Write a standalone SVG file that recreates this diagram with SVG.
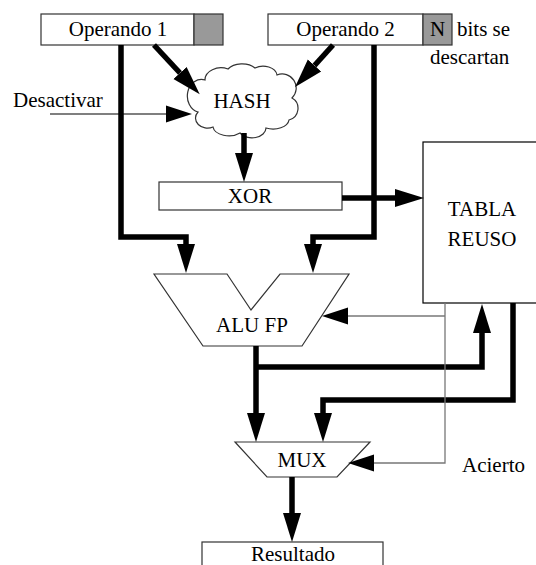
<svg xmlns="http://www.w3.org/2000/svg" width="536" height="565" viewBox="0 0 536 565" font-family="'Liberation Serif', 'Times New Roman', Times, 'DejaVu Serif', serif">
<style>
text{font-family:'Liberation Serif','Times New Roman',Times,'DejaVu Serif',serif;font-size:21px;fill:#000}
.box{fill:#fff;stroke:#333;stroke-width:1.2}
.gray{fill:#999;stroke:#333;stroke-width:1.2}
.thick{fill:none;stroke:#000;stroke-width:5.5;stroke-linejoin:miter;stroke-linecap:butt}
.thin{fill:none;stroke:#000;stroke-width:1.2}
.thing{fill:none;stroke:#777;stroke-width:1.3}
</style>
<defs>
<marker id="ah" markerUnits="userSpaceOnUse" markerWidth="32" markerHeight="20" viewBox="0 -10 32 20" refX="0" refY="0" orient="auto"><path d="M0,-9 L29,0 L0,9 z" fill="#000"/></marker>
<marker id="ahs" markerUnits="userSpaceOnUse" markerWidth="30" markerHeight="20" viewBox="0 -10 30 20" refX="0" refY="0" orient="auto"><path d="M0,-8.5 L26,0 L0,8.5 z" fill="#000"/></marker>
</defs>
<g id="op1"><rect class="box" x="41" y="14" width="153" height="31"/><rect class="gray" x="194" y="14" width="29" height="31"/><text x="118" y="36" text-anchor="middle">Operando 1</text></g>
<g id="op2"><rect class="box" x="268" y="14" width="155" height="31"/><rect class="gray" x="423" y="14" width="29" height="31"/><text x="345.5" y="36" text-anchor="middle">Operando 2</text><text x="437.5" y="36" text-anchor="middle">N</text></g>
<g id="note"><text x="457" y="36">bits se</text><text x="430" y="64">descartan</text></g>
<g id="desactivar"><text x="13" y="107">Desactivar</text></g>
<g id="hash"><path class="box" d="M198,112 A12,14 0 0 1 205,80 A16,12 0 0 1 228,69 A16,10 0 0 1 255,68 A14,10 0 0 1 277,75 A14,14 0 0 1 292,98 A12,12 0 0 1 289,120 A16,10 0 0 1 266,128 A14,10 0 0 1 240,133 A16,10 0 0 1 213,127 A12,10 0 0 1 198,112 z"/><text x="242" y="108" text-anchor="middle">HASH</text></g>
<g id="xor"><rect class="box" x="159" y="182" width="183" height="28"/><text x="250" y="203" text-anchor="middle">XOR</text></g>
<g id="tabla"><rect x="423" y="142" width="120" height="161" fill="#fff" stroke="#000" stroke-width="1.2"/><text x="482" y="216" text-anchor="middle">TABLA</text><text x="482" y="246" text-anchor="middle">REUSO</text></g>
<g id="alu"><polygon class="box" points="154,274 227,274 251,310 280,274 349,274 302,346 203,346"/><text x="252" y="332" text-anchor="middle">ALU FP</text></g>
<g id="mux"><polygon class="box" points="235,442 370,442 337,477 267,477"/><text x="302" y="467" text-anchor="middle">MUX</text></g>
<g id="acierto"><text x="462" y="472">Acierto</text></g>
<g id="resultado"><rect class="box" x="202" y="542" width="181" height="40"/><text x="293" y="561" text-anchor="middle">Resultado</text></g>
<g id="connectors">
<path class="thick" d="M154,45 L180,73" marker-end="url(#ah)"/>
<path class="thick" d="M333,45 L314.5,65.5" marker-end="url(#ah)"/>
<path class="thin" d="M50,114 H166" marker-end="url(#ahs)"/>
<path class="thick" d="M244,133 V153" marker-end="url(#ah)"/>
<path class="thick" d="M342,198 H395" marker-end="url(#ah)"/>
<path class="thick" d="M121,45 V237 H186 V244" marker-end="url(#ah)"/>
<path class="thick" d="M374,45 V237 H313 V244" marker-end="url(#ah)"/>
<path class="thick" d="M256,346 V413" marker-end="url(#ah)"/>
<path class="thick" d="M256,367 H482 V333" marker-end="url(#ah)"/>
<path class="thick" d="M513,303 V400 H323 V413" marker-end="url(#ah)"/>
<path class="thing" d="M445,303 V463 H374" marker-end="url(#ahs)"/>
<path class="thing" d="M445,316 H348" marker-end="url(#ahs)"/>
<path class="thick" d="M292,477 V513" marker-end="url(#ah)"/>
</g>
</svg>
